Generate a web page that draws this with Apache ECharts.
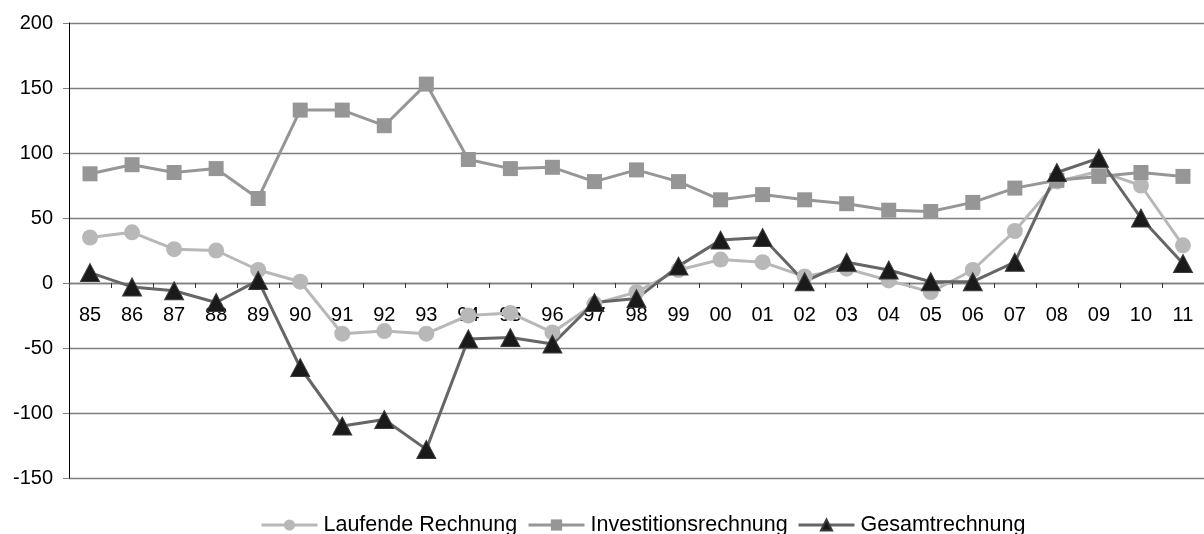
<!DOCTYPE html>
<html>
<head>
<meta charset="utf-8">
<script src="https://cdn.jsdelivr.net/npm/echarts@6/dist/echarts.min.js"></script>
<style>
  html, body { margin: 0; padding: 0; background: #fff; }
  #chart { width: 1204px; height: 534px; }
</style>
</head>
<body>
<div id="chart"></div>
<script>
// Jahre (zweistellig)
const years = ['85','86','87','88','89','90','91','92','93','94','95','96','97','98','99',
               '00','01','02','03','04','05','06','07','08','09','10','11'];

const laufendeRechnung = [35, 39, 26, 25, 10, 1, -39, -37, -39, -25, -23, -38, -16, -7, 10,
                          18, 16, 5, 11, 2, -7, 10, 40, 78, 86, 75, 29];

const investitionsrechnung = [84, 91, 85, 88, 65, 133, 133, 121, 153, 95, 88, 89, 78, 87, 78,
                              64, 68, 64, 61, 56, 55, 62, 73, 79, 82, 85, 82];

const gesamtrechnung = [8, -3, -6, -15, 2, -65, -110, -105, -128, -43, -42, -47, -15, -12, 13,
                        33, 35, 1, 16, 10, 1, 1, 16, 85, 96, 50, 15];

const yTicks = { min: -150, max: 200, step: 50 };

const FONT = 'Arial, "Liberation Sans", sans-serif';
const GRID = { left: 69, right: -10, top: 23, bottom: 56 };
const HEIGHT = 534;

// The category axis sits on the zero line of the value axis
const plotHeight = HEIGHT - GRID.top - GRID.bottom;
const zeroOffset = -((0 - yTicks.min) / (yTicks.max - yTicks.min)) * plotHeight;

const chart = echarts.init(document.getElementById('chart'), null, { renderer: 'canvas' });

function legendAt(name, left) {
  return {
    data: [name],
    left: left,
    top: 514,
    padding: 0,
    itemWidth: 56,
    itemHeight: 14,
    itemGap: 0,
    lineStyle: { width: 3 },
    textStyle: { fontFamily: FONT, fontSize: 21.5, color: '#000', padding: [0, 0, 0, 1] }
  };
}

chart.setOption({
  animation: false,
  backgroundColor: '#fff',
  legend: [
    legendAt('Laufende Rechnung', 260),
    legendAt('Investitionsrechnung', 527),
    legendAt('Gesamtrechnung', 797)
  ],
  grid: GRID,
  xAxis: {
    type: 'category',
    data: years,
    boundaryGap: true,
    position: 'bottom',
    offset: zeroOffset,
    axisLine: { onZero: false, lineStyle: { color: '#808080', width: 1.3 } },
    axisTick: { show: true, length: 5, lineStyle: { color: '#333' } },
    axisLabel: { interval: 0, margin: 22, fontFamily: FONT, fontSize: 20, color: '#000' },
    splitLine: { show: false }
  },
  yAxis: {
    type: 'value',
    min: yTicks.min,
    max: yTicks.max,
    interval: yTicks.step,
    axisLine: { show: true, lineStyle: { color: '#000', width: 1 } },
    axisTick: { show: true, length: 6, lineStyle: { color: '#808080' } },
    axisLabel: { margin: 16, fontFamily: FONT, fontSize: 20, color: '#000' },
    splitLine: { lineStyle: { color: '#7f7f7f', width: 1.3 } }
  },
  series: [
    {
      name: 'Laufende Rechnung',
      type: 'line',
      data: laufendeRechnung,
      symbol: 'circle',
      symbolSize: 16,
      lineStyle: { color: '#b8b8b8', width: 3 },
      itemStyle: { color: '#b8b8b8' }
    },
    {
      name: 'Investitionsrechnung',
      type: 'line',
      data: investitionsrechnung,
      symbol: 'rect',
      symbolSize: 15,
      lineStyle: { color: '#969696', width: 3 },
      itemStyle: { color: '#969696' }
    },
    {
      name: 'Gesamtrechnung',
      type: 'line',
      data: gesamtrechnung,
      symbol: 'triangle',
      symbolSize: [19, 18],
      lineStyle: { color: '#666666', width: 3 },
      itemStyle: { color: '#1a1a1a', borderColor: '#3a3a3a', borderWidth: 1 }
    }
  ]
});
</script>
</body>
</html>
